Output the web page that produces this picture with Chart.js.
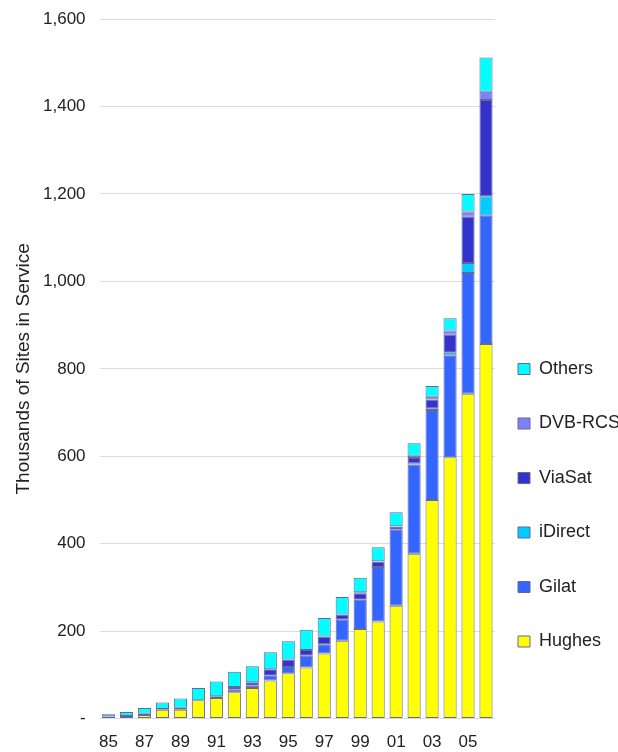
<!DOCTYPE html>
<html>
<head>
<meta charset="utf-8">
<script src="https://cdn.jsdelivr.net/npm/chart.js@4/dist/chart.umd.min.js"></script>
<style>
html,body{margin:0;padding:0;background:#fff;}
#wrap{width:618px;height:752px;position:relative;}
</style>
</head>
<body>
<div id="wrap"><canvas id="c"></canvas></div>
<script>
// Years 1985-2006
const years = ['85','86','87','88','89','90','91','92','93','94','95','96','97','98','99','00','01','02','03','04','05','06'];
// Thousands of sites in service, per vendor
const hughes  = [5, 6, 8, 20, 20, 42, 47, 60, 70, 87, 104, 117, 149, 178, 205, 222, 258, 377, 500, 598, 743, 857];
const gilat   = [0, 0, 3, 2, 5, 0, 4, 6, 5, 11, 14, 27, 21, 48, 67, 125, 174, 204, 206, 232, 276, 293];
const idirect = [0, 0, 0, 0, 0, 0, 0, 0, 0, 0, 0, 0, 0, 0, 0, 0, 0, 3, 4, 7, 23, 45];
const viasat  = [0, 0, 0, 0, 0, 0, 0, 6, 8, 15, 17, 13, 18, 12, 15, 12, 7, 12, 20, 41, 106, 220];
const dvbrcs  = [0, 0, 0, 0, 0, 0, 0, 0, 0, 0, 0, 0, 0, 0, 2, 1, 1, 5, 6, 10, 12, 19];
const others  = [5, 9, 13, 15, 21, 28, 34, 35, 37, 39, 42, 46, 42, 40, 33, 32, 32, 29, 25, 28, 40, 78];
// Y axis ticks
const yTicks = [0, 200, 400, 600, 800, 1000, 1200, 1400, 1600];

const FONT = "'Liberation Sans', Arial, sans-serif";
const BORDER = '#666699';

function ds(label, data, color) {
  return {
    label: label, data: data, backgroundColor: color,
    borderColor: BORDER, borderWidth: 1, borderSkipped: false,
    barPercentage: 0.73, categoryPercentage: 1.0
  };
}

const legendPlacer = {
  id: 'legendPlacer',
  afterLayout(chart) {
    const lg = chart.legend;
    if (!lg) return;
    lg.left = 481.5; lg.right = chart.width;
    lg.top = 323.5; lg.bottom = chart.height;
  }
};

new Chart(document.getElementById('c'), {
  type: 'bar',
  data: {
    labels: years,
    datasets: [
      ds('Hughes', hughes, '#ffff00'),
      ds('Gilat', gilat, '#3366ff'),
      ds('iDirect', idirect, '#00ccff'),
      ds('ViaSat', viasat, '#3333cc'),
      ds('DVB-RCS', dvbrcs, '#8080ff'),
      ds('Others', others, '#00ffff')
    ]
  },
  options: {
    responsive: true,
    maintainAspectRatio: false,
    animation: false,
    layout: { padding: { top: 0, right: 0, bottom: -15, left: 0 } },
    plugins: {
      tooltip: { enabled: false },
      legend: {
        position: 'right',
        align: 'start',
        reverse: true,
        maxWidth: 123,
        labels: {
          boxWidth: 12, boxHeight: 11, padding: 36.5,
          color: '#222', font: { family: FONT, size: 18 }
        }
      }
    },
    scales: {
      x: {
        stacked: true,
        grid: { display: false, drawTicks: false },
        border: { display: false },
        ticks: {
          autoSkip: false, maxRotation: 0, minRotation: 0, padding: 14,
          color: '#222', font: { family: FONT, size: 17 },
          callback: (v, i) => (i % 2 === 0 ? years[i] : '')
        }
      },
      y: {
        stacked: true,
        min: yTicks[0], max: yTicks[yTicks.length - 1],
        border: { display: false },
        grid: { color: '#dcdcdc', lineWidth: 1, drawTicks: false },
        afterBuildTicks: (axis) => { axis.ticks = yTicks.map(v => ({ value: v })); },
        ticks: {
          padding: 14, color: '#222', font: { family: FONT, size: 17, lineHeight: 0.6 },
          callback: (v) => (v === 0 ? '-' : Number(v).toLocaleString('en-US'))
        },
        title: {
          display: true, text: 'Thousands of Sites in Service',
          color: '#222', font: { family: FONT, size: 19 },
          padding: { top: 12.5, bottom: -6.3 }
        }
      }
    }
  },
  plugins: [legendPlacer]
});
</script>
</body>
</html>
